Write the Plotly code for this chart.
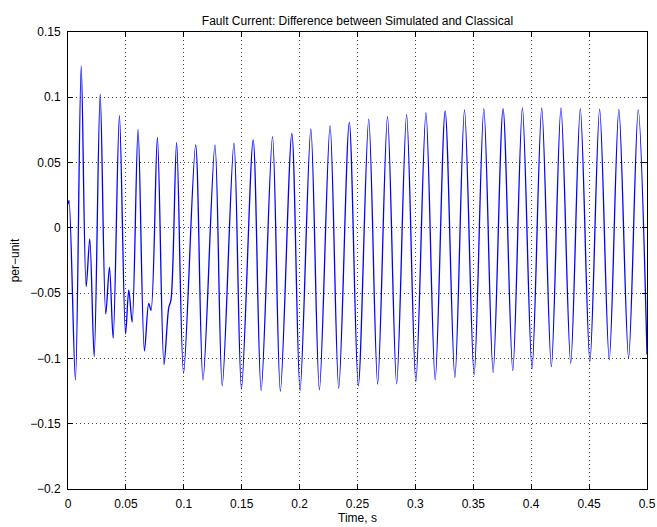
import plotly.graph_objects as go

# Extrema of the waveform (time in s, value in per-unit)
time_s = [0.0, 0.0009, 0.0064, 0.0114, 0.0157, 0.0188, 0.0226, 0.0278, 0.0326, 0.0358,
          0.0390, 0.0444, 0.0497, 0.0525, 0.0554, 0.0605, 0.0660, 0.0697, 0.0717, 0.0772,
          0.0829, 0.0869, 0.0890, 0.0938, 0.0998, 0.1102, 0.1166, 0.1269, 0.1332, 0.1433,
          0.1498, 0.1599, 0.1668, 0.1766, 0.1834, 0.1933, 0.2004, 0.2097, 0.2171, 0.2263,
          0.2338, 0.2429, 0.2507, 0.2597, 0.2674, 0.2759, 0.2838, 0.2924, 0.3004, 0.3091,
          0.3171, 0.3257, 0.3341, 0.3424, 0.3507, 0.3591, 0.3671, 0.3757, 0.3841, 0.3924,
          0.4007, 0.4091, 0.4174, 0.4257, 0.4341, 0.4424, 0.4507, 0.4591, 0.4674, 0.4757,
          0.4841, 0.4924, 0.5]
per_unit = [0.018, 0.021, -0.1165, 0.124, -0.045, -0.0085, -0.0986, 0.1025, -0.066, -0.030,
            -0.0845, 0.0862, -0.0812, -0.0475, -0.0722, 0.0755, -0.0943, -0.0578, -0.0632, 0.0692,
            -0.1046, -0.0617, -0.0548, 0.0654, -0.1114, 0.0635, -0.1165, 0.0635, -0.121, 0.0648,
            -0.1234, 0.0673, -0.1247, 0.0698, -0.1251, 0.0724, -0.1247, 0.0757, -0.1241, 0.0783,
            -0.1228, 0.0808, -0.121, 0.0832, -0.1196, 0.0852, -0.1195, 0.0867, -0.1177, 0.0882,
            -0.1165, 0.0895, -0.1147, 0.0903, -0.1126, 0.0913, -0.1106, 0.0913, -0.1093, 0.0918,
            -0.108, 0.0918, -0.1063, 0.0918, -0.1037, 0.0913, -0.1024, 0.091, -0.1011, 0.0908,
            -0.0998, 0.0903, -0.097]

title_text = "Fault Current: Difference between Simulated and Classical"
x_label = "Time, s"
y_label = "per\u2212unit"

fig = go.Figure()
fig.add_trace(go.Scatter(
    x=time_s, y=per_unit, mode="lines",
    line=dict(color="#0000FF", width=1.3, shape="spline", smoothing=0.9),
    showlegend=False, hoverinfo="skip",
))

font_family = "Liberation Sans, Arial, sans-serif"

fig.update_layout(
    width=657, height=527,
    margin=dict(l=68, r=10, t=32, b=38, pad=0, autoexpand=False),
    paper_bgcolor="white", plot_bgcolor="white",
    font=dict(family=font_family, size=12, color="black"),
    title=dict(text=title_text, x=(68 + 647) / 2 / 657, xanchor="center",
               xref="container", yref="container", y=1 - 21 / 527, yanchor="middle",
               font=dict(size=12, family=font_family, color="black")),
    annotations=[dict(text=x_label, xref="paper", yref="paper", x=0.5, y=0,
                      yshift=-29, xanchor="center", yanchor="middle", showarrow=False,
                      font=dict(size=12, family=font_family, color="black"))],
)

fig.update_xaxes(
    range=[0, 0.5], dtick=0.05, tick0=0, automargin=False,
    showline=True, linecolor="black", linewidth=1, mirror="ticks",
    ticks="inside", ticklen=5, tickcolor="black", tickwidth=1,
    showgrid=True, gridcolor="#444444", griddash="1px,3px", gridwidth=1,
    zeroline=False, ticklabelstandoff=4,
)
fig.update_yaxes(
    range=[-0.2, 0.15], dtick=0.05, tick0=0, automargin=False,
    showline=True, linecolor="black", linewidth=1, mirror="ticks",
    ticks="inside", ticklen=5, tickcolor="black", tickwidth=1,
    showgrid=True, gridcolor="#444444", griddash="1px,3px", gridwidth=1,
    zeroline=False, ticklabelstandoff=4,
    title=dict(text=y_label, standoff=8, font=dict(size=12)),
)

fig.write_html("out.html",
               config={"displayModeBar": False},
               post_script="document.body.style.margin='0';document.body.style.overflow='hidden';")
